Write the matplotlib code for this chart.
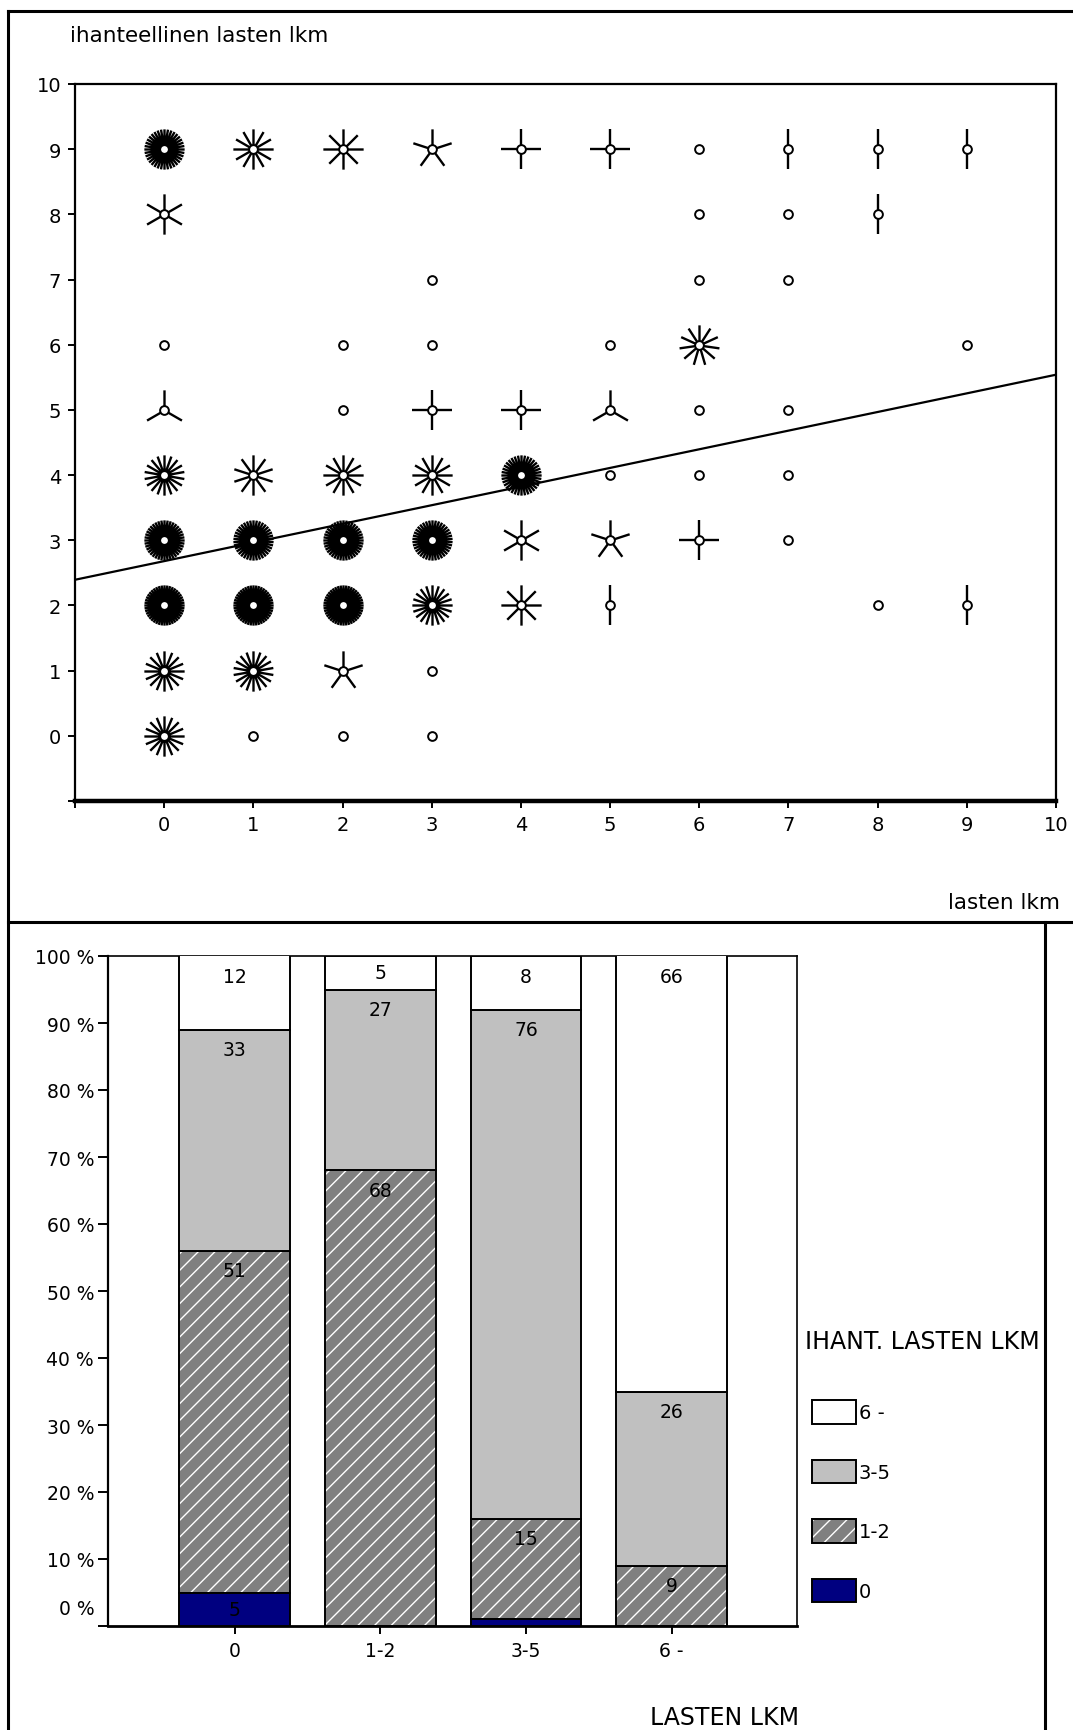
import numpy as np
import matplotlib
matplotlib.use("Agg")
import matplotlib.pyplot as plt
from matplotlib.path import Path
from matplotlib.lines import Line2D
from matplotlib.patches import Patch

plt.rcParams["font.family"] = ["DejaVu Sans"]
plt.rcParams["hatch.linewidth"] = 1.0

# ---------------------------------------------------------------
# Sunflower plot: current number of children vs. ideal number
# ---------------------------------------------------------------
lasten = [0, 1, 2, 3, 4, 5, 6, 7, 8, 9,
          0, 6, 7, 8,
          3, 6, 7,
          0, 2, 3, 5, 6, 9,
          0, 2, 3, 4, 5, 6, 7,
          0, 1, 2, 3, 4, 5, 6, 7,
          0, 1, 2, 3, 4, 5, 6, 7,
          0, 1, 2, 3, 4, 5, 8, 9,
          0, 1, 2, 3,
          0, 1, 2, 3]
ihanteellinen = [9, 9, 9, 9, 9, 9, 9, 9, 9, 9,
                 8, 8, 8, 8,
                 7, 7, 7,
                 6, 6, 6, 6, 6, 6,
                 5, 5, 5, 5, 5, 5, 5,
                 4, 4, 4, 4, 4, 4, 4, 4,
                 3, 3, 3, 3, 3, 3, 3, 3,
                 2, 2, 2, 2, 2, 2, 2, 2,
                 1, 1, 1, 1,
                 0, 0, 0, 0]
havainnot = [36, 12, 8, 5, 4, 4, 1, 2, 2, 2,
             6, 1, 1, 2,
             1, 1, 1,
             1, 1, 1, 1, 11, 1,
             3, 1, 4, 4, 3, 1, 1,
             18, 10, 12, 12, 36, 1, 1, 1,
             40, 38, 40, 38, 6, 5, 4, 1,
             44, 44, 44, 20, 8, 2, 1, 2,
             16, 18, 5, 1,
             16, 1, 1, 1]

# Least-squares line
reg_intercept = 2.68
reg_slope = 0.286

x_ticks = list(range(-1, 11))
y_ticks = list(range(-1, 11))

# ---------------------------------------------------------------
# Stacked 100 % bars: ideal number within current-number groups
# ---------------------------------------------------------------
bar_groups = ["0", "1-2", "3-5", "6 -"]
osuus_0 = [5, 0, 1, 0]
osuus_1_2 = [51, 68, 15, 9]
osuus_3_5 = [33, 27, 76, 26]
osuus_6 = [12, 5, 8, 66]
series_names = ["0", "1-2", "3-5", "6 -"]
pct_ticks = list(range(0, 101, 10))

W, H = 1073, 1731
fig = plt.figure(figsize=(W / 100, H / 100), dpi=100)
fig.patch.set_facecolor("white")


def px_axes(left, top, right, bottom):
    return fig.add_axes([left / W, 1 - bottom / H, (right - left) / W, (bottom - top) / H])


def fig_line(xs, ys, lw=2.2):
    fig.add_artist(Line2D([x / W for x in xs], [1 - y / H for y in ys],
                          transform=fig.transFigure, color="black", lw=lw,
                          solid_capstyle="projecting"))


def petal_path(n):
    ang = np.pi / 2 + 2 * np.pi * np.arange(n) / n
    verts, codes = [], []
    for a in ang:
        verts += [(0.0, 0.0), (np.cos(a), np.sin(a))]
        codes += [Path.MOVETO, Path.LINETO]
    return Path(verts, codes)


# outer frames of the two panels
fig_line([8, W], [12, 12])
fig_line([8, 8], [12, H])
fig_line([8, W], [923, 923])
fig_line([1045, 1045], [923, H])

# ---------------- top panel ----------------
ax1 = px_axes(75, 85, 1056, 802)
ax1.set_xlim(-1, 10)
ax1.set_ylim(-1, 10)

xr = np.array([-1.0, 10.0])
ax1.plot(xr, reg_intercept + reg_slope * xr, color="black", lw=1.6, zorder=1)

lx = np.array(lasten)
ly = np.array(ihanteellinen)
lc = np.array(havainnot)
for n in sorted(set(havainnot)):
    if n < 2:
        continue
    m = lc == n
    ax1.plot(lx[m], ly[m], linestyle="none", marker=petal_path(n), markersize=29,
             markeredgecolor="black", markerfacecolor="none", markeredgewidth=1.7,
             zorder=2)
ax1.plot(lx, ly, linestyle="none", marker="o", markersize=6.3,
         markerfacecolor="white", markeredgecolor="black", markeredgewidth=1.4, zorder=3)

ax1.set_xticks(x_ticks)
ax1.set_xticklabels([str(v) if v >= 0 else "" for v in x_ticks])
ax1.set_yticks(y_ticks)
ax1.set_yticklabels([str(v) if v >= 0 else "" for v in y_ticks])
ax1.tick_params(axis="both", direction="out", length=5, width=1.4, labelsize=14, pad=5)
for side in ["left", "top", "right"]:
    ax1.spines[side].set_linewidth(1.6)
ax1.spines["bottom"].set_linewidth(3.2)

fig.text(70 / W, 1 - 36 / H, "ihanteellinen lasten lkm", fontsize=15.5, ha="left", va="center")
fig.text(1060 / W, 1 - 903 / H, "lasten lkm", fontsize=15.5, ha="right", va="center")

# ---------------- bottom panel ----------------
ax2 = px_axes(108, 957, 797, 1627)
ax2.set_xlim(-0.87, 3.86)
ax2.set_ylim(0, 100)

xpos = np.arange(len(bar_groups))
width = 0.76
segments = [(osuus_0, "#000080", None),
            (osuus_1_2, "#808080", "//"),
            (osuus_3_5, "#c0c0c0", None),
            (osuus_6, "#ffffff", None)]
base = np.zeros(len(bar_groups))
for vals, col, hatch in segments:
    vals = np.array(vals, dtype=float)
    if hatch:
        ax2.bar(xpos, vals, width, bottom=base, color=col, hatch=hatch,
                edgecolor="white", linewidth=0, zorder=2)
        ax2.bar(xpos, vals, width, bottom=base, fill=False,
                edgecolor="black", linewidth=1.4, zorder=3)
    else:
        ax2.bar(xpos, vals, width, bottom=base, color=col,
                edgecolor="black", linewidth=1.4, zorder=3)
    for xi, v, b in zip(xpos, vals, base):
        if v >= 2:
            top = min(b + v, 100)
            ax2.text(xi, top - min(3.0, v / 2), f"{v:g}", ha="center", va="center",
                     fontsize=13.5, zorder=4)
    base = base + vals

ax2.set_xticks(xpos)
ax2.set_xticklabels(bar_groups)
ax2.set_yticks(pct_ticks)
ax2.set_yticklabels([f"{v} %" if v > 0 else "" for v in pct_ticks])
ax2.annotate("0 %", xy=(0, 0), xycoords=("axes fraction", "data"),
             xytext=(-13, 17), textcoords="offset pixels",
             ha="right", va="center", fontsize=13.5)
ax2.tick_params(axis="y", direction="out", length=7, width=1.4, labelsize=13.5, pad=3)
ax2.tick_params(axis="x", direction="out", length=6, width=1.4, labelsize=13.5, pad=5)
ax2.spines["left"].set_linewidth(1.6)
ax2.spines["bottom"].set_linewidth(2.0)
ax2.spines["top"].set_linewidth(1.2)
ax2.spines["right"].set_linewidth(1.2)

fig.text(725 / W, 1 - 1718 / H, "LASTEN LKM", fontsize=17, ha="center", va="center")
fig.text(805 / W, 1 - 1342 / H, "IHANT. LASTEN LKM", fontsize=17, ha="left", va="center")

fs = 14
fs_px = fs * 100 / 72
handles = [
    Patch(facecolor="#ffffff", edgecolor="black", linewidth=1.4),
    Patch(facecolor="#c0c0c0", edgecolor="black", linewidth=1.4),
    (Patch(facecolor="#808080", edgecolor="white", linewidth=0, hatch="//"),
     Patch(fill=False, edgecolor="black", linewidth=1.4)),
    Patch(facecolor="#000080", edgecolor="black", linewidth=1.4),
]
fig.legend(handles, series_names[::-1], loc="upper left",
           bbox_to_anchor=(812 / W, 1 - 1401 / H), frameon=False, fontsize=fs,
           handlelength=44 / fs_px, handleheight=29 / fs_px,
           labelspacing=36 / fs_px, handletextpad=3 / fs_px,
           borderpad=0, borderaxespad=0)

fig.savefig("out.png", dpi=100, facecolor="white")
